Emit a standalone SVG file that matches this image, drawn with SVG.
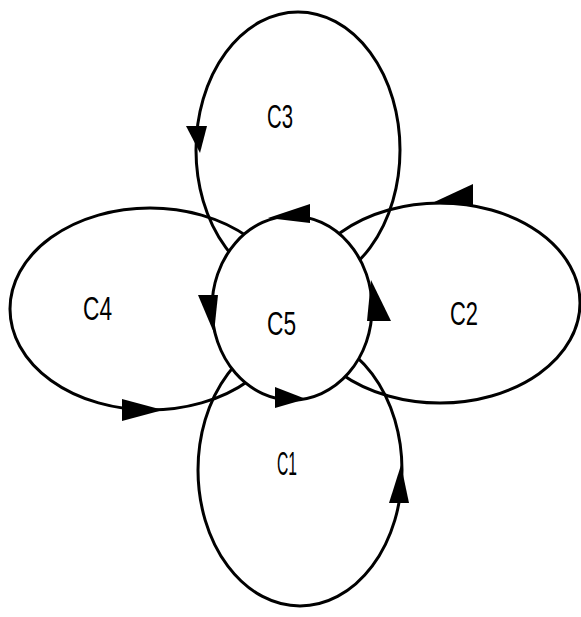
<svg xmlns="http://www.w3.org/2000/svg" width="581" height="617" viewBox="0 0 581 617">
<style>
.loop{fill:none;stroke:#000;stroke-width:3}
.center{fill:#fff;stroke:#000;stroke-width:3}
.arr{fill:#000;stroke:none}
.lbl{font-family:"Liberation Sans",Arial,sans-serif;font-size:34px;fill:#000}
</style>
<rect width="581" height="617" fill="#fff"/>
<g id="C3"><ellipse class="loop" cx="298" cy="150" rx="102" ry="138"/><text class="lbl" x="267" y="128" textLength="26" lengthAdjust="spacingAndGlyphs">C3</text></g>
<g id="C1"><ellipse class="loop" cx="300" cy="470" rx="102" ry="136"/><text class="lbl" x="277" y="475" textLength="20" lengthAdjust="spacingAndGlyphs">C1</text></g>
<g id="C4"><ellipse class="loop" cx="150" cy="309" rx="140" ry="101"/><text class="lbl" x="83" y="320" textLength="29" lengthAdjust="spacingAndGlyphs">C4</text></g>
<g id="C2"><ellipse class="loop" cx="440" cy="303" rx="140" ry="100"/><text class="lbl" x="450" y="325" textLength="28" lengthAdjust="spacingAndGlyphs">C2</text></g>
<g id="C5"><ellipse class="center" cx="292" cy="308" rx="80" ry="92"/><text class="lbl" x="267" y="335" textLength="29" lengthAdjust="spacingAndGlyphs">C5</text></g>
<g id="connectors">
<polygon class="arr" points="186,126 207,126 200,153"/>
<polygon class="arr" points="310,204 310,223 268,218"/>
<polygon class="arr" points="367,321 391,321 371,280"/>
<polygon class="arr" points="198,295 218,295 214,333"/>
<polygon class="arr" points="275,387 275,408 306,399"/>
<polygon class="arr" points="473,184 473,205 430,204"/>
<polygon class="arr" points="389,503 409,503 401,465"/>
<polygon class="arr" points="122,399 122,421 163,410"/>
</g>
</svg>
